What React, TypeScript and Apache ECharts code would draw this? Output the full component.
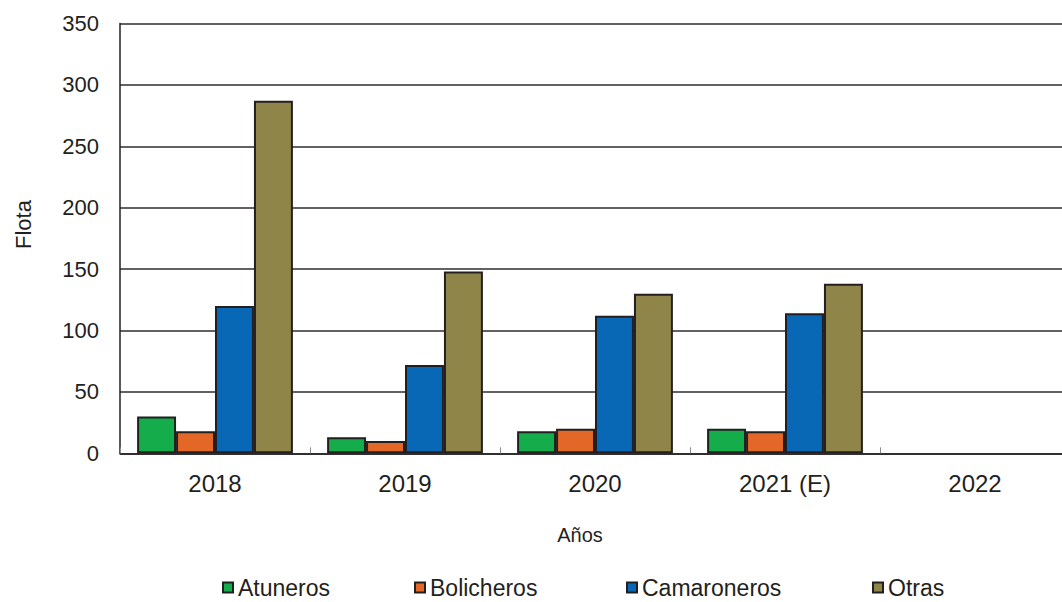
import React, { useEffect, useRef } from "react";
import * as echarts from "echarts";

const categories = ["2018", "2019", "2020", "2021 (E)", "2022"];
const atuneros = [30, 13, 18, 20, null];
const bolicheros = [18, 10, 20, 18, null];
const camaroneros = [120, 72, 112, 114, null];
const otras = [287, 148, 130, 138, null];
const seriesNames = ["Atuneros", "Bolicheros", "Camaroneros", "Otras"];
const seriesColors = ["#15AD4C", "#E36726", "#0868B6", "#8F8549"];
const yTicks = { min: 0, max: 350, interval: 50 };
const legendLefts = [222, 414, 626, 872];

const FONT = "Liberation Sans, Arial, sans-serif";

export default function App() {
  const ref = useRef<HTMLDivElement>(null);
  useEffect(() => {
    if (!ref.current) return;
    document.body.style.overflow = "hidden";
    const chart = echarts.init(ref.current, undefined, { renderer: "svg" });
    const data = [atuneros, bolicheros, camaroneros, otras];
    chart.setOption({
      animation: false,
      backgroundColor: "#ffffff",
      textStyle: { fontFamily: FONT },
      grid: { left: 120, right: 2, top: 23.5, bottom: 148.7, containLabel: false },
      legend: seriesNames.map((name, i) => ({
        left: legendLefts[i],
        top: 576,
        padding: 0,
        itemWidth: 10,
        itemHeight: 10,
        icon: "rect",
        textStyle: { fontFamily: FONT, fontSize: 23, lineHeight: 22, color: "#231f20" },
        data: [name],
      })),
      xAxis: {
        type: "category",
        data: categories,
        axisLine: { lineStyle: { color: "#231f20", width: 1.5 } },
        axisTick: { show: true, inside: true, length: 6, lineStyle: { color: "#8a8a8a", width: 1 } },
        axisLabel: { fontFamily: FONT, fontSize: 24, color: "#231f20", margin: 18 },
        splitLine: { show: false },
      },
      yAxis: {
        type: "value",
        min: yTicks.min,
        max: yTicks.max,
        interval: yTicks.interval,
        axisLine: { show: true, lineStyle: { color: "#231f20", width: 1.5 } },
        axisTick: { show: false },
        axisLabel: { fontFamily: FONT, fontSize: 22, color: "#231f20", margin: 21 },
        splitLine: { show: true, lineStyle: { color: "#2e2e2e", width: 1.5 } },
      },
      graphic: [
        {
          type: "text",
          x: 23,
          y: 224.5,
          rotation: Math.PI / 2,
          style: {
            text: "Flota",
            fontFamily: FONT,
            fontSize: 22,
            fill: "#231f20",
            align: "center",
            verticalAlign: "middle",
          },
        },
        {
          type: "text",
          x: 580,
          y: 535,
          style: {
            text: "Años",
            fontFamily: FONT,
            fontSize: 20,
            fill: "#231f20",
            align: "center",
            verticalAlign: "middle",
          },
        },
      ],
      series: seriesNames.map((name, i) => ({
        name,
        type: "bar",
        data: data[i],
        barGap: "0%",
        barCategoryGap: "18%",
        itemStyle: { color: seriesColors[i], borderColor: "#231f20", borderWidth: 2 },
      })),
    });
    return () => chart.dispose();
  }, []);
  return (
    <div
      ref={ref}
      style={{ position: "absolute", left: 0, top: 0, width: 1072, height: 602 }}
    />
  );
}
